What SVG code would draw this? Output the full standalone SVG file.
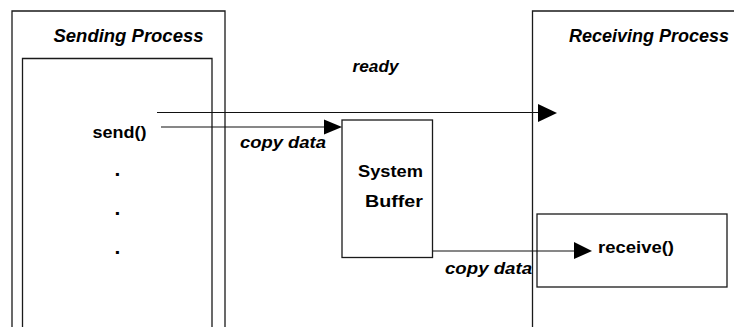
<svg xmlns="http://www.w3.org/2000/svg" width="734" height="327" viewBox="0 0 734 327">
  <style>
    .frame { fill: none; stroke: #1a1a1a; stroke-width: 1.3; }
    .wire { fill: none; stroke: #111; stroke-width: 1.2; }
    .head { fill: #000; }
    .title { font-family: "Liberation Sans", Arial, sans-serif; font-weight: bold; font-style: italic; font-size: 18.5px; fill: #000; }
    .label { font-family: "Liberation Sans", Arial, sans-serif; font-weight: bold; font-size: 17px; fill: #000; }
    .note { font-family: "Liberation Sans", Arial, sans-serif; font-weight: bold; font-style: italic; font-size: 17px; fill: #000; }
    .dot { font-family: "Liberation Sans", Arial, sans-serif; font-weight: bold; font-size: 21px; fill: #000; }
  </style>
  <rect width="734" height="327" fill="#fff"/>

  <!-- sending side -->
  <g id="sending-process">
    <path class="frame" d="M12,327 V11 H225 V327"/>
    <text class="title" x="53.5" y="42" textLength="150" lengthAdjust="spacingAndGlyphs">Sending Process</text>
  </g>
  <g id="sender-code">
    <path class="frame" d="M22.5,327 V58.5 H212 V327"/>
    <text class="label" x="92.5" y="138" textLength="54" lengthAdjust="spacingAndGlyphs">send()</text>
    <text class="dot" x="117.5" y="175.5" text-anchor="middle">.</text>
    <text class="dot" x="117.5" y="214.5" text-anchor="middle">.</text>
    <text class="dot" x="117.5" y="253.5" text-anchor="middle">.</text>
  </g>

  <!-- system buffer -->
  <g id="system-buffer">
    <rect class="frame" x="342" y="120" width="90.5" height="137.5"/>
    <text class="label" x="358" y="177" textLength="65" lengthAdjust="spacingAndGlyphs">System</text>
    <text class="label" x="365" y="207" textLength="58" lengthAdjust="spacingAndGlyphs">Buffer</text>
  </g>

  <!-- receiving side -->
  <g id="receiving-process">
    <path class="frame" d="M532.5,327 V11 H734"/>
    <text class="title" x="569" y="42" textLength="160" lengthAdjust="spacingAndGlyphs">Receiving Process</text>
  </g>
  <g id="receiver-code">
    <rect class="frame" x="537" y="214" width="190" height="73"/>
    <text class="label" x="598" y="253" textLength="76" lengthAdjust="spacingAndGlyphs">receive()</text>
  </g>

  <!-- connectors -->
  <g id="connectors">
    <line class="wire" x1="157" y1="112.5" x2="540" y2="112.5"/>
    <polygon class="head" points="538,104 557,113 538,122"/>
    <text class="note" x="352.5" y="72" textLength="46" lengthAdjust="spacingAndGlyphs">ready</text>

    <line class="wire" x1="161" y1="127" x2="326" y2="127"/>
    <polygon class="head" points="324,119.5 342,127 324,134.5"/>
    <text class="note" x="240" y="147.5" textLength="86" lengthAdjust="spacingAndGlyphs">copy data</text>

    <line class="wire" x1="433" y1="251" x2="576" y2="251"/>
    <polygon class="head" points="574,242 592,251 574,259"/>
    <text class="note" x="445" y="273.5" textLength="87" lengthAdjust="spacingAndGlyphs">copy data</text>
  </g>
</svg>
